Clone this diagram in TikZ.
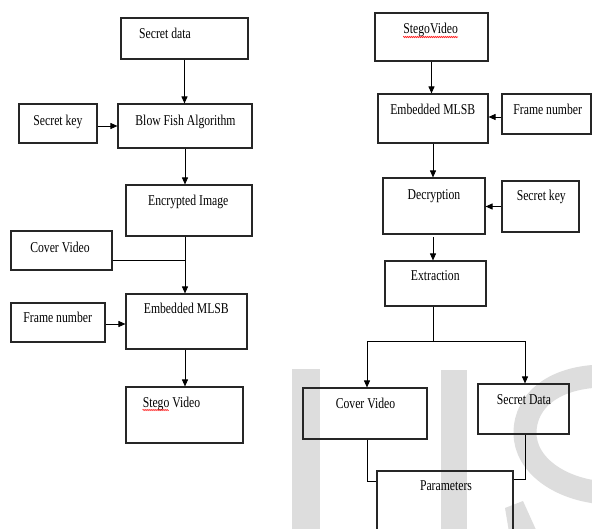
\documentclass[tikz,border=0pt]{standalone}
\usepackage{fontspec}
\setmainfont[FakeStretch=0.78]{Liberation Serif}
\usetikzlibrary{arrows.meta,decorations.pathmorphing}
\definecolor{wm}{RGB}{221,221,221}
\begin{document}
\begin{tikzpicture}[x=1pt,y=-1pt,
  box/.style={draw=black!85,line width=1.1pt,inner sep=0pt},
  txt/.style={anchor=base,inner sep=0pt,font=\fontsize{15}{18}\selectfont},
  arr/.style={-{Triangle[length=7pt,width=6pt]},line width=0.9pt},
  conn/.style={line width=0.9pt},
  wavy/.style={draw=red,line width=0.5pt,decorate,decoration={zigzag,segment length=2pt,amplitude=0.7pt}}]
\useasboundingbox (0,0) rectangle (592,529);
\clip (0,0) rectangle (592,529);
\fill[white] (0,0) rectangle (592,529);
% watermark
\fill[wm] (292,369) rectangle (320,535);
\fill[wm] (441,370) rectangle (467,535);
\draw[wm,line width=23pt] (605,376) .. controls (555,376) and (525,400) .. (525,433) .. controls (525,465) and (560,490) .. (605,493);
\fill[wm] (505,508) -- (523,501) -- (537,532) -- (509,532) -- cycle;
% left column boxes
\node[box,minimum width=127pt,minimum height=41pt] (sd) at (184.5,38.5) {};
\node[box,minimum width=78pt,minimum height=39pt] (sk) at (58,123.5) {};
\node[box,minimum width=134pt,minimum height=44pt] (bf) at (185,126) {};
\node[box,minimum width=126pt,minimum height=51pt] (ei) at (189,210.5) {};
\node[box,minimum width=101pt,minimum height=39pt] (cv) at (61.5,250.5) {};
\node[box,minimum width=121pt,minimum height=55pt] (em) at (186.5,321.5) {};
\node[box,minimum width=94pt,minimum height=39pt] (fn) at (58,322.5) {};
\node[box,minimum width=117pt,minimum height=56pt] (sv) at (184.5,415) {};
% left texts
\node[txt] (tsd) at (165,39) {Secret data};
\node[txt] (tsk) at (58,126) {Secret key};
\node[txt] (tbf) at (185.5,126) {Blow Fish Algorithm};
\node[txt] (tei) at (188.3,206) {Encrypted Image};
\node[txt] (tcv) at (60,253) {Cover Video};
\node[txt] (tem) at (186.3,314) {Embedded MLSB};
\node[txt] (tfn) at (57.7,323) {Frame number};
\node[txt] (tsv) at (171.5,407) {Stego Video};
\draw[wavy] ([yshift=-3pt]tsv.base west) -- ++(26,0);
% left connectors
\coordinate (j1) at (185,260);
\draw[arr] (sd.south) -- (sd.south |- bf.north);
\draw[arr] (sk.east |- bf.west) -- (bf.west);
\draw[arr] (bf.south) -- (bf.south |- ei.north);
\draw[arr] (bf.south |- ei.south) -- (bf.south |- em.north);
\draw[conn] (cv.east |- j1) -- (j1);
\draw[arr] ([yshift=-1.5pt]fn.east) -- ([yshift=-1.5pt]fn.east -| em.west);
\draw[arr] (bf.south |- em.south) -- (bf.south |- sv.north);
% right column boxes
\node[box,minimum width=113pt,minimum height=48pt] (sv2) at (431.5,37) {};
\node[box,minimum width=110pt,minimum height=49pt] (em2) at (433,118.5) {};
\node[box,minimum width=89pt,minimum height=40pt] (fn2) at (546.5,114) {};
\node[box,minimum width=102pt,minimum height=56pt] (de) at (434,206) {};
\node[box,minimum width=77pt,minimum height=51pt] (sk2) at (540.5,206.5) {};
\node[box,minimum width=101pt,minimum height=45pt] (ex) at (435.5,283.5) {};
\node[box,minimum width=124pt,minimum height=51pt] (cv2) at (365,413.5) {};
\node[box,minimum width=91pt,minimum height=50pt] (sd2) at (523.5,409) {};
\node[box,minimum width=136pt,minimum height=89pt] (pa) at (445,515.5) {};
% right texts
\node[txt] (tsv2) at (430.7,34) {StegoVideo};
\draw[wavy] ([yshift=-3pt]tsv2.base west) -- ([yshift=-3pt]tsv2.base east);
\node[txt] (tem2) at (432.7,115) {Embedded MLSB};
\node[txt] (tfn2) at (547.7,115) {Frame number};
\node[txt] (tde) at (434,200) {Decryption};
\node[txt] (tsk2) at (541.3,201) {Secret key};
\node[txt] (tex) at (435.3,281) {Extraction};
\node[txt] (tcv2) at (365.5,408) {Cover Video};
\node[txt] (tsd2) at (524,405) {Secret Data};
\node[txt] (tpa) at (446,490) {Parameters};
% right connectors
\coordinate (br) at (433,341);
\draw[arr] (sv2.south) -- (sv2.south |- em2.north);
\draw[arr] ([yshift=-3pt]fn2.west) -- ([yshift=-3pt]fn2.west -| em2.east);
\draw[arr] (em2.south) -- (em2.south |- de.north);
\draw[arr] (sk2.west) -- (sk2.west -| de.east);
\draw[arr] ([yshift=-2.5pt]de.south -| em2.south) -- (em2.south |- ex.north);
\draw[conn] (br |- ex.south) -- (br);
\draw[arr] (br) -| ([xshift=2pt]cv2.north);
\draw[arr] (br) -| ([xshift=1.5pt]sd2.north);
\draw[conn] ([xshift=2pt]cv2.south) |- ([yshift=-11pt]pa.north west);
\draw[conn] ([xshift=1.5pt]sd2.south) |- ([yshift=-9pt]pa.north east);
\end{tikzpicture}
\end{document}
